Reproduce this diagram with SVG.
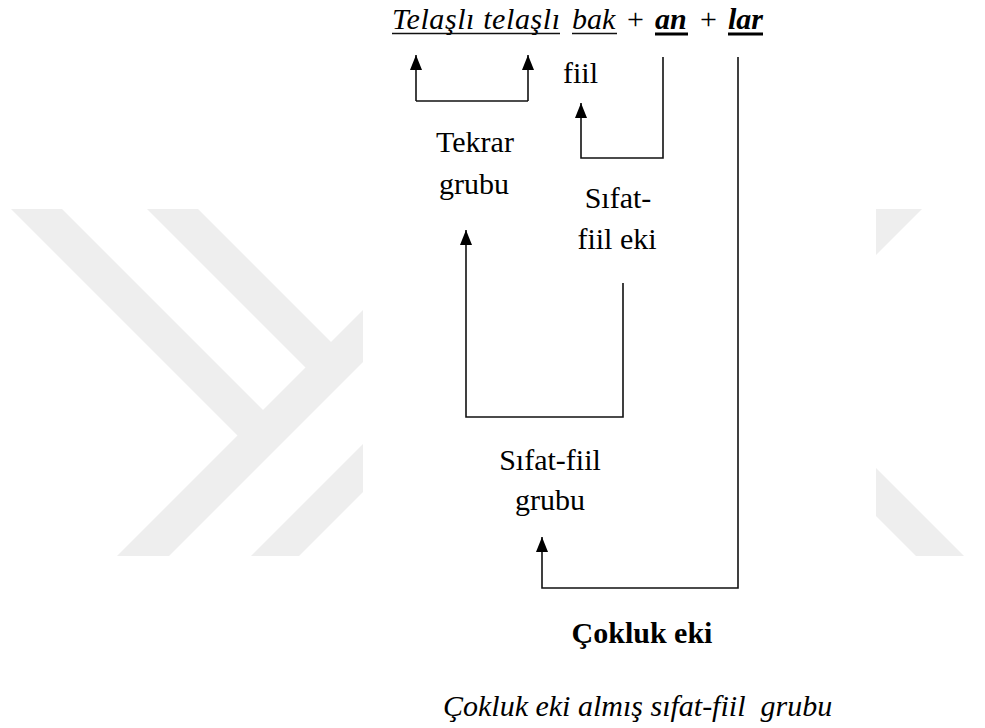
<svg xmlns="http://www.w3.org/2000/svg" width="985" height="728" viewBox="0 0 985 728">
<style>
.t{font-family:"Liberation Serif","Times New Roman",serif;font-size:30px;fill:#000}
.it{font-style:italic}
.b{font-weight:bold}
.c{text-anchor:middle}
.ln{fill:none;stroke:#111;stroke-width:1.6}
.ul{stroke:#111;stroke-width:1.5}
.ulb{stroke:#000;stroke-width:3}
.wm{fill:#eeeeee}
</style>
<defs>
<marker id="ah" markerUnits="userSpaceOnUse" markerWidth="16" markerHeight="14" viewBox="-15 -7 16 14" refX="0" refY="0" orient="auto">
<path d="M0,0 L-15,-6 L-15,6 Z" fill="#000"/>
</marker>
<clipPath id="wl"><rect x="0" y="209" width="363" height="347"/></clipPath>
<clipPath id="wr"><rect x="876" y="209" width="109" height="347"/></clipPath>
</defs>
<rect width="985" height="728" fill="#fff"/>
<g id="watermark">
<g clip-path="url(#wl)">
<polygon class="wm" points="10,208 61,208 277,424 251,449"/>
<polygon class="wm" points="146,208 197,208 345,356 319,381"/>
<polygon class="wm" points="465,208 517,208 125,600 73,600"/>
<polygon class="wm" points="607,200 655,200 55,800 7,800"/>
</g>
<g clip-path="url(#wr)">
<polygon class="wm" points="852,208 923,208 800,331 729,331"/>
<polygon class="wm" points="827,467 875,467 1075,667 1027,667"/>
</g>
</g>
<g id="connectors">
<path class="ln" d="M416,101 H528"/>
<path class="ln" d="M416,101 V55" marker-end="url(#ah)"/>
<path class="ln" d="M528,101 V55" marker-end="url(#ah)"/>
<path class="ln" d="M663,57 V158 H581 V103" marker-end="url(#ah)"/>
<path class="ln" d="M623,283 V417 H466 V230" marker-end="url(#ah)"/>
<path class="ln" d="M738,57 V588 H542 V537" marker-end="url(#ah)"/>
</g>
<g id="sentence">
<text class="t it" x="392" y="29" textLength="168">Telaşlı telaşlı</text>
<line class="ul" x1="392" y1="33.5" x2="560" y2="33.5"/>
<text class="t it" x="572" y="29">bak</text>
<line class="ul" x1="572" y1="33.5" x2="617" y2="33.5"/>
<text class="t" x="627" y="29">+</text>
<text class="t it b" x="655" y="29">an</text>
<line class="ulb" x1="655" y1="34" x2="688" y2="34"/>
<text class="t" x="700" y="29">+</text>
<text class="t it b" x="728" y="29">lar</text>
<line class="ulb" x1="728" y1="34" x2="763" y2="34"/>
</g>
<g id="fiil">
<text class="t" x="563" y="83">fiil</text>
</g>
<g id="tekrar-grubu">
<text class="t c" x="475" y="152">Tekrar</text>
<text class="t c" x="474" y="194">grubu</text>
</g>
<g id="sifat-fiil-eki">
<text class="t c" x="618" y="208">Sıfat-</text>
<text class="t c" x="617" y="249">fiil eki</text>
</g>
<g id="sifat-fiil-grubu">
<text class="t c" x="550" y="470">Sıfat-fiil</text>
<text class="t c" x="550" y="510">grubu</text>
</g>
<g id="cokluk-eki">
<text class="t b c" x="642" y="643">Çokluk eki</text>
</g>
<g id="caption">
<text class="t it" x="443" y="716" xml:space="preserve">Çokluk eki almış sıfat-fiil  grubu</text>
</g>
</svg>
